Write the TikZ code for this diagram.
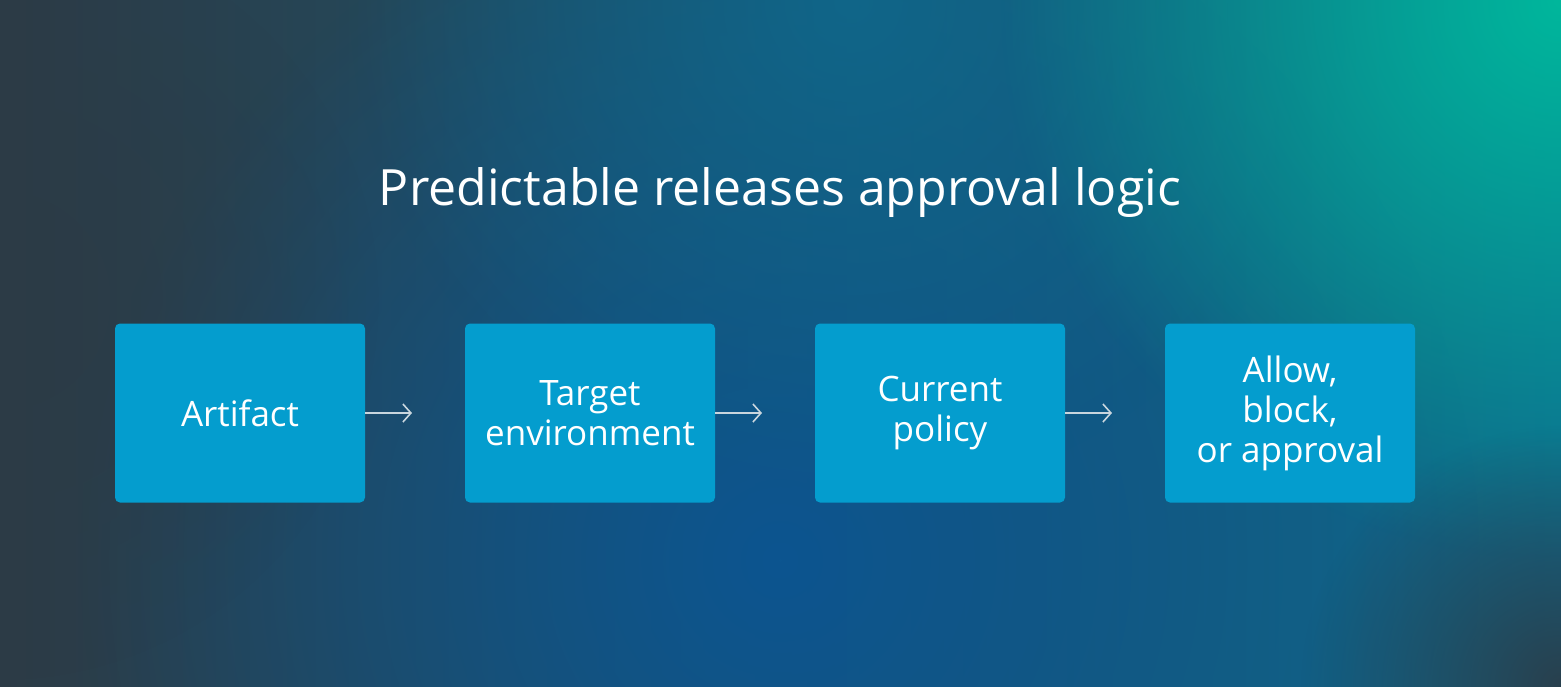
\documentclass[tikz,border=0pt]{standalone}
\usepackage{fontspec}
\setmainfont{Open Sans}
\usetikzlibrary{arrows.meta,fadings}
\definecolor{bgdark}{HTML}{2C3B46}
\definecolor{bgblue}{HTML}{0C5590}
\definecolor{bgmid}{HTML}{0E6A8E}
\definecolor{bgteal}{HTML}{00B79C}
\definecolor{boxblue}{HTML}{049DCE}
\definecolor{arrowgray}{HTML}{C9D6DE}
\tikzfading[name=softglow,inner color=transparent!0,outer color=transparent!100]

\begin{document}
\begin{tikzpicture}[x=1pt,y=-1pt]
    \tikzstyle{stepbox}=[fill=boxblue,rounded corners=5pt,minimum width=250pt,minimum height=179pt,
                         text=white,align=center,font=\fontsize{35}{40}\selectfont,inner sep=0pt]
    \tikzstyle{flow}=[-{Straight Barb[length=8pt,width=18pt]},line width=1.6pt,color=arrowgray]

    % Background
    \useasboundingbox (0,0) rectangle (1561,686);
    \shade[left color=bgdark,right color=bgmid] (0,0) rectangle (1561,686);
    \fill[bgblue,path fading=softglow] (780,560) circle (700);
    \fill[bgmid,path fading=softglow,opacity=0.8] (850,0) circle (500);
    \fill[bgteal,path fading=softglow] (1561,0) circle (560);
    \fill[bgdark,path fading=softglow,opacity=0.9] (1561,686) circle (260);
    \fill[bgdark,path fading=softglow,opacity=0.7] (0,300) circle (380);

    % Title
    \node[text=white,font=\fontsize{50}{60}\selectfont] (title) at (780,193) {Predictable releases approval logic};

    % Steps
    \node[stepbox] (artifact) at (240,413) {Artifact};
    \node[stepbox] (target) at (590,413) {Target\\environment};
    \node[stepbox] (policy) at (940,413) {Current\\policy};
    \node[stepbox] (decision) at (1290,413) {Allow,\\block,\\or approval};

    \coordinate (a_1) at (412,413);
    \coordinate (a_2) at (762,413);
    \coordinate (a_3) at (1112,413);

    \draw[style=flow] (artifact.east) -- (a_1);
    \draw[style=flow] (target.east) -- (a_2);
    \draw[style=flow] (policy.east) -- (a_3);
\end{tikzpicture}
\end{document}
